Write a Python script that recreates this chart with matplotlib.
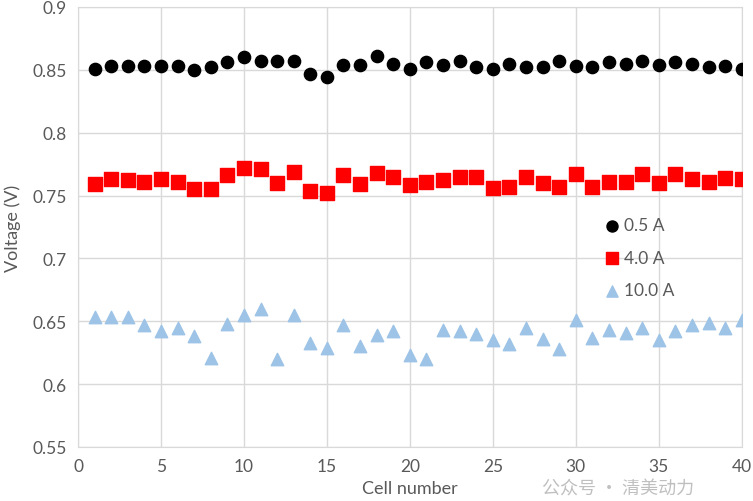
import numpy as np
import matplotlib
matplotlib.use("Agg")
from matplotlib import pyplot as plt

# Cell numbers and measured voltages at three currents
cells = np.arange(1, 41)

v_05 = [0.851, 0.853, 0.853, 0.853, 0.853, 0.853, 0.850, 0.852, 0.856, 0.860,
        0.857, 0.857, 0.857, 0.847, 0.844, 0.854, 0.854, 0.861, 0.855, 0.851,
        0.856, 0.854, 0.857, 0.852, 0.851, 0.855, 0.852, 0.852, 0.857, 0.853,
        0.852, 0.856, 0.855, 0.857, 0.854, 0.856, 0.855, 0.852, 0.853, 0.851]

v_40 = [0.759, 0.763, 0.762, 0.761, 0.763, 0.761, 0.755, 0.755, 0.766, 0.772,
        0.771, 0.760, 0.769, 0.754, 0.752, 0.766, 0.759, 0.768, 0.765, 0.758,
        0.761, 0.762, 0.765, 0.765, 0.756, 0.757, 0.765, 0.760, 0.757, 0.767,
        0.757, 0.761, 0.761, 0.767, 0.760, 0.767, 0.763, 0.761, 0.764, 0.763]

v_100 = [0.653, 0.653, 0.653, 0.647, 0.642, 0.645, 0.638, 0.621, 0.648, 0.655,
         0.660, 0.620, 0.655, 0.633, 0.629, 0.647, 0.630, 0.639, 0.642, 0.623,
         0.620, 0.643, 0.642, 0.640, 0.635, 0.632, 0.645, 0.636, 0.628, 0.651,
         0.637, 0.643, 0.641, 0.645, 0.635, 0.642, 0.647, 0.649, 0.645, 0.651]

labels = ['0.5 A', '4.0 A', '10.0 A']

plt.rcParams['font.family'] = ['Lato', 'DejaVu Sans']
grey_text = '#595959'

fig = plt.figure(figsize=(7.53, 5.02), dpi=100)
ax = fig.add_axes([0.1036, 0.1076, 0.8814, 0.8765])

ax.scatter(cells, v_05, s=78, marker='o', color='black', label=labels[0], zorder=3)
ax.scatter(cells, v_40, s=88, marker='s', color='#ff0000', label=labels[1], zorder=3)
ax.scatter(cells, v_100, s=80, marker='^', color='#9dc3e6', label=labels[2], zorder=3)

ax.set_xlim(0, 40)
ax.set_ylim(0.55, 0.9)
ax.set_xticks(np.arange(0, 41, 5))
ax.set_yticks(np.arange(0.55, 0.901, 0.05))
ax.set_yticklabels(['0.55', '0.6', '0.65', '0.7', '0.75', '0.8', '0.85', '0.9'])
ax.grid(True, color='#d9d9d9', linewidth=1)
ax.set_axisbelow(True)
for s in ax.spines.values():
    s.set_color('#d9d9d9')
ax.tick_params(length=0, labelsize=12.5, colors=grey_text, pad=8)

ax.set_xlabel('Cell number', fontsize=13, color=grey_text, labelpad=4)
ax.set_ylabel('Voltage (V)', fontsize=13, color=grey_text, labelpad=8)

leg = ax.legend(loc='center left', bbox_to_anchor=(0.765, 0.43), frameon=False,
                fontsize=12.5, handletextpad=0.1, labelspacing=0.95,
                handlelength=1.2, markerscale=0.9)
for t in leg.get_texts():
    t.set_color(grey_text)

# watermark (kept below the tick labels so it doesn't collide)
fig.text(0.72, 0.025, '公众号 · 清美动力', fontsize=13, color='#b0b0b0', alpha=0.8,
         family=['Noto Sans CJK SC', 'DejaVu Sans'], ha='left', va='center')

fig.savefig('out.png', dpi=100)
